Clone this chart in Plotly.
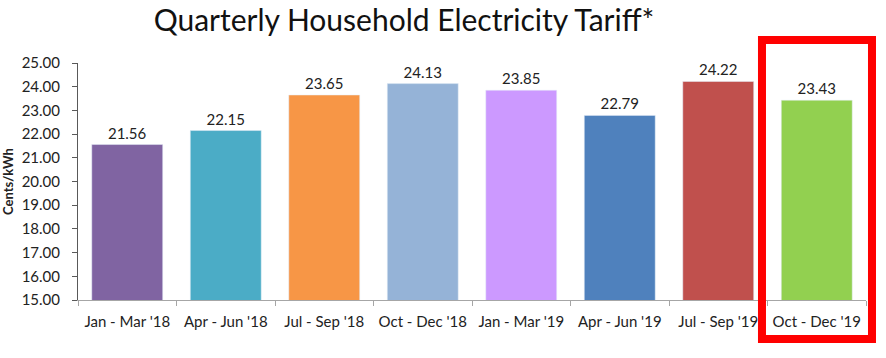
import plotly.graph_objects as go

categories = ["Jan - Mar '18", "Apr - Jun '18", "Jul - Sep '18", "Oct - Dec '18",
              "Jan - Mar '19", "Apr - Jun '19", "Jul - Sep '19", "Oct - Dec '19"]
values = [21.56, 22.15, 23.65, 24.13, 23.85, 22.79, 24.22, 23.43]
colors = ["#8064A2", "#4BACC6", "#F79646", "#95B3D7", "#CC99FF", "#4F81BD", "#C0504D", "#92D050"]
y_ticks = [15, 16, 17, 18, 19, 20, 21, 22, 23, 24, 25]

FONT = "Lato"

fig = go.Figure(go.Bar(
    x=categories, y=values, marker_color=colors,
    text=[f"{v:.2f}" for v in values], textposition="outside",
    textfont=dict(size=15, color="#222222", family=FONT),
    cliponaxis=False,
))

fig.update_layout(
    width=886, height=358,
    margin=dict(l=78, r=20, t=63, b=58),
    paper_bgcolor="white", plot_bgcolor="white",
    bargap=0.28,
    showlegend=False,
    title=dict(text="Quarterly Household Electricity Tariff*", x=0.456, xanchor="center",
               y=0.942, yanchor="middle",
               font=dict(size=30, color="#111111", family=FONT)),
    font=dict(family=FONT, color="#222222"),
)

fig.update_xaxes(
    automargin=False,
    showline=True, linecolor="#A6A6A6", linewidth=1,
    ticks="outside", tickson="boundaries", ticklen=5, tickcolor="#A6A6A6",
    tickangle=0, ticklabelstandoff=8,
    tickfont=dict(size=15, color="#222222", family=FONT),
    showgrid=False,
)
fig.update_yaxes(
    automargin=False,
    range=[15, 25], tickvals=y_ticks, tickformat=".2f",
    showline=True, linecolor="#595959", linewidth=1,
    ticks="outside", ticklen=5, tickcolor="#595959",
    ticklabelstandoff=9,
    tickfont=dict(size=15, color="#222222", family=FONT),
    showgrid=False, zeroline=False,
    title=dict(text="<b>Cents/kWh</b>", font=dict(size=13, color="#222222", family=FONT), standoff=12),
)

fig.add_shape(type="rect", xref="paper", yref="paper",
              x0=0.868, x1=1.0076, y0=-0.1646, y1=1.097,
              line=dict(color="#FF0000", width=8), fillcolor="rgba(0,0,0,0)", layer="above")

fig.write_html("out.html", config={"displayModeBar": False},
               post_script="document.body.style.margin='0';")
